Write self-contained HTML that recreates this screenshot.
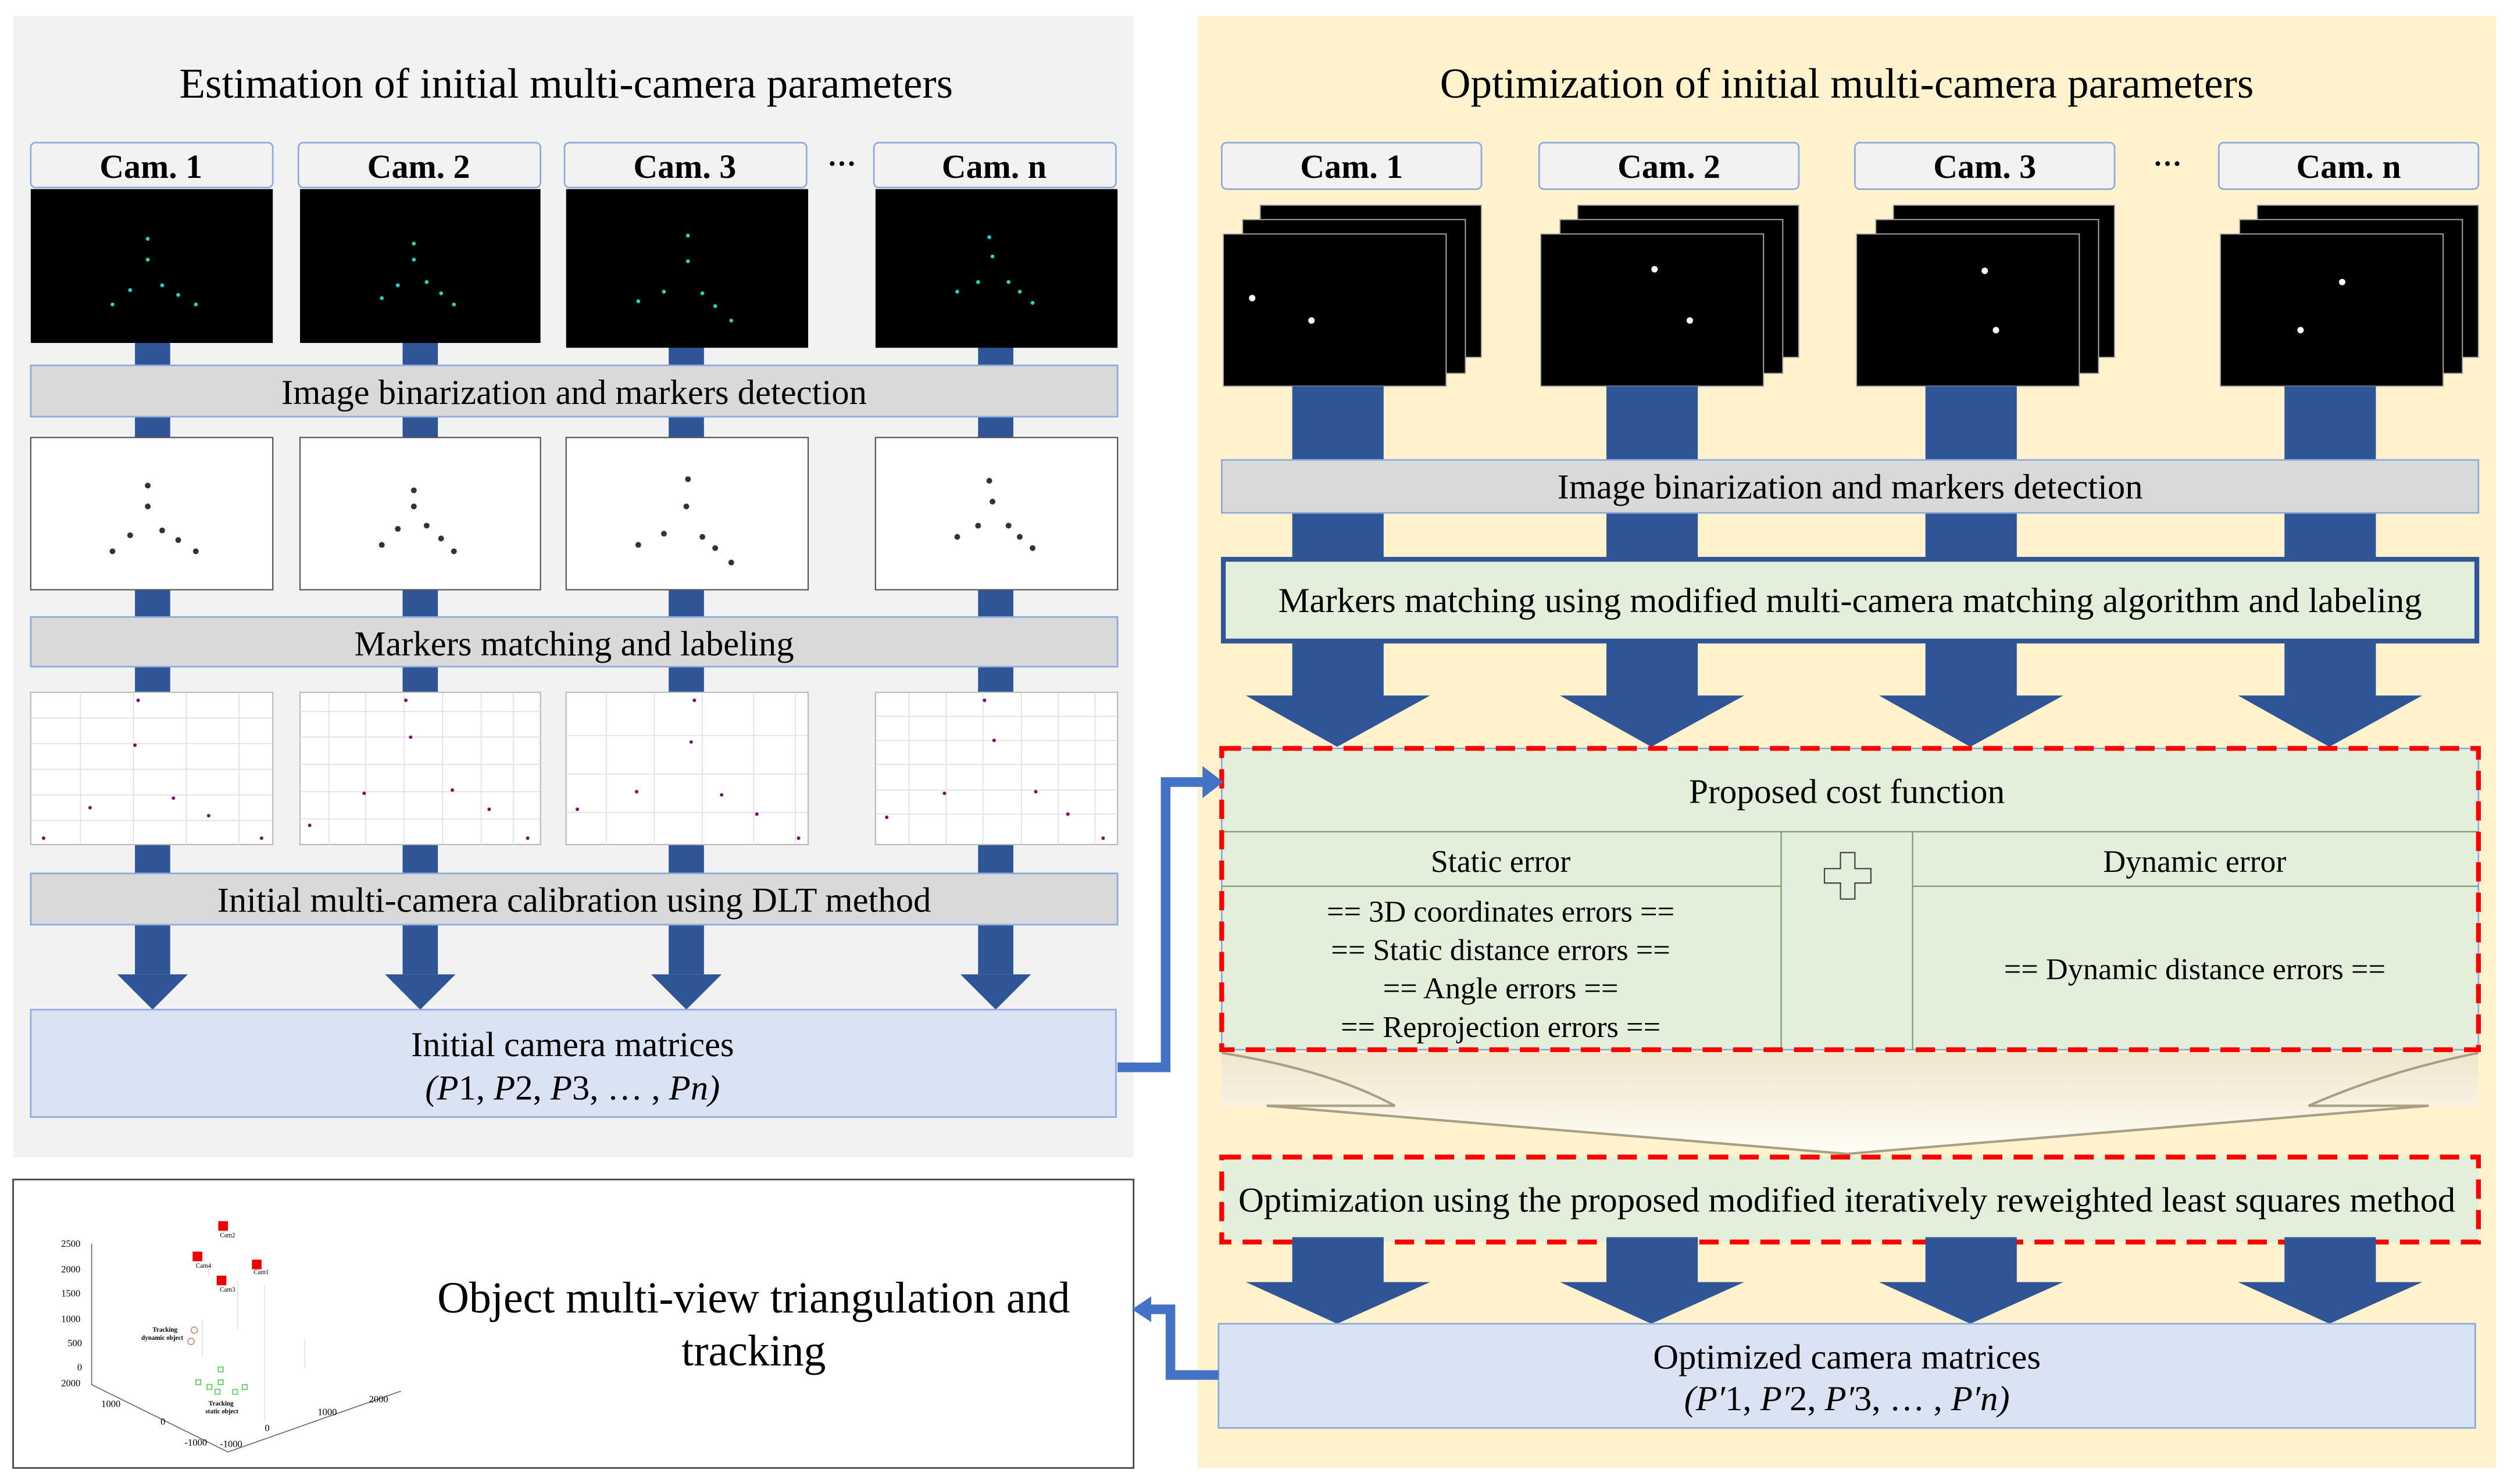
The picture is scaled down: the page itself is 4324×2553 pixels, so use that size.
<!DOCTYPE html>
<html><head><meta charset="utf-8"><style>
html,body{margin:0;padding:0;background:#fff;}
svg{display:block;}
text{font-family:"Liberation Serif",serif;fill:#000;}
</style></head><body>
<svg width="4324" height="2553" viewBox="0 0 1568 926" xmlns="http://www.w3.org/2000/svg">
<defs>
<linearGradient id="chev" x1="0" y1="0" x2="0" y2="1">
<stop offset="0" stop-color="#efe6cc"/><stop offset="1" stop-color="#fffdf6"/>
</linearGradient>
</defs>
<rect x="0" y="0" width="1568" height="926" fill="#fff"/>
<rect x="8" y="10" width="699" height="712" fill="#f2f2f2"/>
<text x="353" y="61" font-size="26.5" text-anchor="middle">Estimation of initial multi-camera parameters</text>

<g fill="#2f5597">
<rect x="84" y="214" width="22" height="394"/>
<rect x="251" y="214" width="22" height="394"/>
<rect x="417" y="214" width="22" height="394"/>
<rect x="610" y="214" width="22" height="394"/>
<polygon points="73,608 117,608 95,630"/>
<polygon points="240,608 284,608 262,630"/>
<polygon points="406,608 450,608 428,630"/>
<polygon points="599,608 643,608 621,630"/>
</g>

<g fill="#f2f2f2" stroke="#8faadc" stroke-width="1">
<rect x="19" y="89" width="151" height="28" rx="3"/>
<rect x="186" y="89" width="151" height="28" rx="3"/>
<rect x="352" y="89" width="151" height="28" rx="3"/>
<rect x="545" y="89" width="151" height="28" rx="3"/>
</g>
<g font-size="21" font-weight="bold" text-anchor="middle">
<text x="94" y="111">Cam. 1</text><text x="261" y="111">Cam. 2</text><text x="427" y="111">Cam. 3</text><text x="620" y="111">Cam. n</text>
</g>
<text x="525" y="108" font-size="18" text-anchor="middle" font-weight="bold">···</text>

<g fill="#000">
<rect x="19" y="118" width="151" height="96"/>
<rect x="187" y="118" width="150" height="96"/>
<rect x="353" y="118" width="151" height="99"/>
<rect x="546" y="118" width="151" height="99"/>
</g>
<g fill="#2ad1c9">
<circle cx="92" cy="149" r="1.2"/><circle cx="92" cy="162" r="1.2"/><circle cx="81" cy="181" r="1.2"/><circle cx="101" cy="178" r="1.2"/><circle cx="111" cy="184" r="1.2"/><circle cx="70" cy="190" r="1.2"/><circle cx="122" cy="190" r="1.2"/>
<circle cx="258" cy="152" r="1.2"/><circle cx="258" cy="162" r="1.2"/><circle cx="248" cy="178" r="1.2"/><circle cx="266" cy="176" r="1.2"/><circle cx="275" cy="183" r="1.2"/><circle cx="238" cy="186" r="1.2"/><circle cx="283" cy="190" r="1.2"/>
<circle cx="429" cy="147" r="1.2"/><circle cx="429" cy="163" r="1.2"/><circle cx="414" cy="182" r="1.2"/><circle cx="438" cy="183" r="1.2"/><circle cx="446" cy="191" r="1.2"/><circle cx="398" cy="188" r="1.2"/><circle cx="456" cy="200" r="1.2"/>
<circle cx="617" cy="148" r="1.2"/><circle cx="619" cy="160" r="1.2"/><circle cx="610" cy="176" r="1.2"/><circle cx="629" cy="176" r="1.2"/><circle cx="636" cy="182" r="1.2"/><circle cx="597" cy="182" r="1.2"/><circle cx="644" cy="189" r="1.2"/>
</g>

<rect x="19" y="228" width="678" height="32" fill="#d9d9d9" stroke="#8faadc" stroke-width="1"/>
<text x="358" y="252" font-size="22" text-anchor="middle">Image binarization and markers detection</text>

<g fill="#fff" stroke="#555" stroke-width="0.8">
<rect x="19" y="273" width="151" height="95"/>
<rect x="187" y="273" width="150" height="95"/>
<rect x="353" y="273" width="151" height="95"/>
<rect x="546" y="273" width="151" height="95"/>
</g>
<g fill="#333">
<circle cx="92" cy="303" r="1.8"/><circle cx="92" cy="316" r="1.8"/><circle cx="81" cy="334" r="1.8"/><circle cx="101" cy="331" r="1.8"/><circle cx="111" cy="337" r="1.8"/><circle cx="70" cy="344" r="1.8"/><circle cx="122" cy="344" r="1.8"/>
<circle cx="258" cy="306" r="1.8"/><circle cx="258" cy="316" r="1.8"/><circle cx="248" cy="330" r="1.8"/><circle cx="266" cy="328" r="1.8"/><circle cx="275" cy="336" r="1.8"/><circle cx="238" cy="340" r="1.8"/><circle cx="283" cy="344" r="1.8"/>
<circle cx="429" cy="299" r="1.8"/><circle cx="428" cy="316" r="1.8"/><circle cx="414" cy="333" r="1.8"/><circle cx="438" cy="335" r="1.8"/><circle cx="446" cy="342" r="1.8"/><circle cx="398" cy="340" r="1.8"/><circle cx="456" cy="351" r="1.8"/>
<circle cx="617" cy="300" r="1.8"/><circle cx="619" cy="313" r="1.8"/><circle cx="610" cy="328" r="1.8"/><circle cx="629" cy="328" r="1.8"/><circle cx="636" cy="335" r="1.8"/><circle cx="597" cy="335" r="1.8"/><circle cx="644" cy="342" r="1.8"/>
</g>

<rect x="19" y="385" width="678" height="31" fill="#d9d9d9" stroke="#8faadc" stroke-width="1"/>
<text x="358" y="409" font-size="22" text-anchor="middle">Markers matching and labeling</text>

<g fill="#fff" stroke="#bbb" stroke-width="0.8">
<rect x="19" y="432" width="151" height="95"/>
<rect x="187" y="432" width="150" height="95"/>
<rect x="353" y="432" width="151" height="95"/>
<rect x="546" y="432" width="151" height="95"/>
</g>
<g stroke="#e0e0e0" stroke-width="0.6">
<path d="M19,448H170M19,464H170M19,480H170M19,496H170M19,512H170M50,432V527M83,432V527M116,432V527M149,432V527"/>
<path d="M187,444H337M187,460H337M187,477H337M187,494H337M187,511H337M205,432V527M228,432V527M252,432V527M276,432V527M300,432V527M320,432V527"/>
<path d="M353,459H504M353,483H504M353,507H504M378,432V527M408,432V527M438,432V527M470,432V527M496,432V527"/>
<path d="M546,447H697M546,462H697M546,477H697M546,493H697M546,508H697M567,432V527M590,432V527M613,432V527M637,432V527M660,432V527M683,432V527"/>
</g>
<g fill="#7a1070">
<circle cx="86" cy="437" r="1.1"/><circle cx="84" cy="465" r="1.1"/><circle cx="56" cy="504" r="1.1"/><circle cx="108" cy="498" r="1.1"/><circle cx="130" cy="509" r="1.1"/><circle cx="27" cy="523" r="1.1"/><circle cx="163" cy="523" r="1.1"/>
<circle cx="253" cy="437" r="1.1"/><circle cx="256" cy="460" r="1.1"/><circle cx="227" cy="495" r="1.1"/><circle cx="282" cy="493" r="1.1"/><circle cx="305" cy="505" r="1.1"/><circle cx="193" cy="515" r="1.1"/><circle cx="329" cy="523" r="1.1"/>
<circle cx="433" cy="437" r="1.1"/><circle cx="431" cy="463" r="1.1"/><circle cx="397" cy="494" r="1.1"/><circle cx="450" cy="496" r="1.1"/><circle cx="472" cy="508" r="1.1"/><circle cx="360" cy="505" r="1.1"/><circle cx="498" cy="523" r="1.1"/>
<circle cx="614" cy="437" r="1.1"/><circle cx="620" cy="462" r="1.1"/><circle cx="589" cy="495" r="1.1"/><circle cx="646" cy="494" r="1.1"/><circle cx="666" cy="508" r="1.1"/><circle cx="553" cy="510" r="1.1"/><circle cx="688" cy="523" r="1.1"/>
</g>

<rect x="19" y="545" width="678" height="32" fill="#d9d9d9" stroke="#8faadc" stroke-width="1"/>
<text x="358" y="569" font-size="22" text-anchor="middle">Initial multi-camera calibration using DLT method</text>

<rect x="19" y="630" width="677" height="67" fill="#dae3f3" stroke="#8faadc" stroke-width="1"/>
<text x="357" y="659" font-size="22" text-anchor="middle">Initial camera matrices</text>
<text x="357" y="686" font-size="22" text-anchor="middle" font-style="italic">(P<tspan font-style="normal">1, </tspan>P<tspan font-style="normal">2, </tspan>P<tspan font-style="normal">3, … , </tspan>Pn)</text>

<rect x="8" y="736" width="699" height="180" fill="#fff" stroke="#444" stroke-width="1"/>
<text x="470" y="819" font-size="27.5" text-anchor="middle">Object multi-view triangulation and</text>
<text x="470" y="852" font-size="27.5" text-anchor="middle">tracking</text>
<g stroke="#ddd" stroke-width="0.5" fill="none">
<path d="M148,830V798M126,846V823M130,790V796M165,802V887M190,836V854"/>
</g>
<g stroke="#666" stroke-width="0.6" fill="none">
<path d="M57,776V864L142,906L250,868"/>
</g>
<g font-family="Liberation Sans" font-size="6" fill="#333">
<text x="38" y="778">2500</text><text x="38" y="794">2000</text><text x="38" y="809">1500</text><text x="38" y="825">1000</text><text x="42" y="840">500</text><text x="48" y="855">0</text>
<text x="38" y="865">2000</text><text x="63" y="878">1000</text><text x="100" y="889">0</text><text x="115" y="902">-1000</text><text x="137" y="903">-1000</text><text x="165" y="893">0</text><text x="198" y="883">1000</text><text x="230" y="875">2000</text>
</g>
<g fill="#e00">
<rect x="136" y="762" width="6" height="6"/><rect x="120" y="781" width="6" height="6"/><rect x="157" y="786" width="6" height="6"/><rect x="135" y="796" width="6" height="6"/>
</g>
<g font-size="4" fill="#000">
<text x="137" y="772">Cam2</text><text x="122" y="791">Cam4</text><text x="158" y="795">Cam1</text><text x="137" y="806">Cam3</text>
<text x="95" y="831" font-weight="bold">Tracking</text><text x="88" y="836" font-weight="bold">dynamic object</text>
<text x="130" y="877" font-weight="bold">Tracking</text><text x="128" y="882" font-weight="bold">static object</text>
</g>
<g fill="none" stroke="#c87" stroke-width="0.6"><circle cx="121" cy="830" r="2"/><circle cx="119" cy="837" r="2"/></g>
<g fill="none" stroke="#5c5" stroke-width="0.6">
<rect x="136" y="853" width="3" height="3"/><rect x="122" y="861" width="3" height="3"/><rect x="129" y="864" width="3" height="3"/><rect x="136" y="861" width="3" height="3"/><rect x="134" y="867" width="3" height="3"/><rect x="145" y="867" width="3" height="3"/><rect x="151" y="864" width="3" height="3"/>
</g>

<rect x="747" y="10" width="810" height="906" fill="#fff2cc"/>
<text x="1152" y="61" font-size="26.5" text-anchor="middle">Optimization of initial multi-camera parameters</text>

<g fill="#f2f2f2" stroke="#8faadc" stroke-width="1">
<rect x="762" y="89" width="162" height="29" rx="3"/>
<rect x="960" y="89" width="162" height="29" rx="3"/>
<rect x="1157" y="89" width="162" height="29" rx="3"/>
<rect x="1384" y="89" width="162" height="29" rx="3"/>
</g>
<g font-size="21" font-weight="bold" text-anchor="middle">
<text x="843" y="111">Cam. 1</text><text x="1041" y="111">Cam. 2</text><text x="1238" y="111">Cam. 3</text><text x="1465" y="111">Cam. n</text>
</g>
<text x="1352" y="108" font-size="18" text-anchor="middle" font-weight="bold">···</text>

<g fill="#000" stroke="#aaa" stroke-width="0.7">
<rect x="786" y="128" width="138" height="95"/><rect x="775" y="137" width="139" height="96"/><rect x="763" y="146" width="139" height="95"/>
<rect x="984" y="128" width="138" height="95"/><rect x="973" y="137" width="139" height="96"/><rect x="961" y="146" width="139" height="95"/>
<rect x="1181" y="128" width="138" height="95"/><rect x="1170" y="137" width="139" height="96"/><rect x="1158" y="146" width="139" height="95"/>
<rect x="1408" y="128" width="138" height="95"/><rect x="1397" y="137" width="139" height="96"/><rect x="1385" y="146" width="139" height="95"/>
</g>
<g fill="#fff">
<circle cx="781" cy="186" r="2"/><circle cx="818" cy="200" r="2"/>
<circle cx="1032" cy="168" r="2"/><circle cx="1054" cy="200" r="2"/>
<circle cx="1238" cy="169" r="2"/><circle cx="1245" cy="206" r="2"/>
<circle cx="1461" cy="176" r="2"/><circle cx="1435" cy="206" r="2"/>
</g>

<g fill="#2f5597">
<rect x="806" y="241" width="57" height="194"/>
<rect x="1002" y="241" width="57" height="194"/>
<rect x="1201" y="241" width="57" height="194"/>
<rect x="1425" y="241" width="57" height="194"/>
<polygon points="777,434 892,434 834,466"/>
<polygon points="973,434 1088,434 1030,466"/>
<polygon points="1172,434 1287,434 1229,466"/>
<polygon points="1396,434 1511,434 1453,466"/>
</g>

<rect x="762" y="287" width="784" height="33" fill="#d9d9d9" stroke="#8faadc" stroke-width="1"/>
<text x="1154" y="311" font-size="22" text-anchor="middle">Image binarization and markers detection</text>

<rect x="763" y="349" width="782" height="51" fill="#e2efda" stroke="#2f5597" stroke-width="3"/>
<text x="1154" y="382" font-size="22" text-anchor="middle">Markers matching using modified multi-camera matching algorithm and labeling</text>

<rect x="762" y="467" width="784" height="188" fill="#e2efda" stroke="#8faadc" stroke-width="1"/>
<g stroke="#7a9a6a" stroke-width="0.8" fill="none">
<path d="M762,519H1546M762,553H1111M1193,553H1546M1111,519V655M1193,519V655"/>
</g>
<rect x="762" y="467" width="784" height="188" fill="none" stroke="#ff0000" stroke-width="3" stroke-dasharray="12,7"/>
<text x="1152" y="501" font-size="21.5" text-anchor="middle">Proposed cost function</text>
<text x="936" y="544" font-size="19.5" text-anchor="middle">Static error</text>
<text x="1369" y="544" font-size="19.5" text-anchor="middle">Dynamic error</text>
<path d="M1148,532h9v10h10v9h-10v10h-9v-10h-10v-9h10z" fill="none" stroke="#444" stroke-width="0.8"/>
<g font-size="19" text-anchor="middle">
<text x="936" y="575">== 3D coordinates errors ==</text>
<text x="936" y="599">== Static distance errors ==</text>
<text x="936" y="623">== Angle errors ==</text>
<text x="936" y="647">== Reprojection errors ==</text>
<text x="1369" y="611">== Dynamic distance errors ==</text>
</g>

<path d="M762,657 L1546,657 L1546,690 L1515,690 L1152,720 L790,690 L762,690 Z" fill="url(#chev)"/>
<path d="M762,657 Q830,668 870,690 L790,690 L1152,720 L1515,690 L1440,690 Q1490,668 1546,657" fill="none" stroke="#a89f85" stroke-width="1.5"/>

<rect x="762" y="722" width="784" height="53" fill="#e2efda"/>
<rect x="762" y="722" width="784" height="53" fill="none" stroke="#ff0000" stroke-width="3" stroke-dasharray="12,7"/>
<text x="1152" y="756" font-size="22" text-anchor="middle">Optimization using the proposed modified iteratively reweighted least squares method</text>

<g fill="#2f5597">
<rect x="806" y="772" width="57" height="29"/>
<rect x="1002" y="772" width="57" height="29"/>
<rect x="1201" y="772" width="57" height="29"/>
<rect x="1425" y="772" width="57" height="29"/>
<polygon points="777,800 892,800 834,826"/>
<polygon points="973,800 1088,800 1030,826"/>
<polygon points="1172,800 1287,800 1229,826"/>
<polygon points="1396,800 1511,800 1453,826"/>
</g>

<rect x="760" y="826" width="784" height="65" fill="#dae3f3" stroke="#8faadc" stroke-width="1"/>
<text x="1152" y="854" font-size="22" text-anchor="middle">Optimized camera matrices</text>
<text x="1152" y="880" font-size="22" text-anchor="middle" font-style="italic">(P′<tspan font-style="normal">1, </tspan>P′<tspan font-style="normal">2, </tspan>P′<tspan font-style="normal">3, … , </tspan>P′n)</text>

<g fill="none" stroke="#4472c4" stroke-width="6">
<path d="M697,666H727V488H752"/>
<path d="M760,858H730V817H716"/>
</g>
<polygon points="750,478 763,488 750,498" fill="#4472c4"/>
<polygon points="718,809 706,817 718,825" fill="#4472c4"/>
</svg>
</body></html>
